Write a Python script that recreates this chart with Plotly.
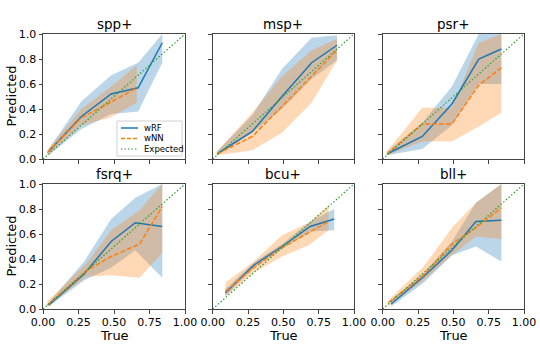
import plotly.graph_objects as go

# calibration panels: mean true fraction (x) vs predicted, with spread bands
classes = ["spp+", "msp+", "psr+", "fsrq+", "bcu+", "bll+"]

rf_x = [
    [0.04, 0.27, 0.48, 0.67, 0.84],
    [0.03, 0.28, 0.49, 0.70, 0.88],
    [0.03, 0.28, 0.49, 0.68, 0.84],
    [0.04, 0.29, 0.48, 0.65, 0.84],
    [0.09, 0.29, 0.49, 0.69, 0.86],
    [0.06, 0.29, 0.49, 0.66, 0.84],
]
rf_y = [
    [0.06, 0.34, 0.52, 0.57, 0.93],
    [0.04, 0.22, 0.50, 0.77, 0.91],
    [0.04, 0.18, 0.44, 0.80, 0.88],
    [0.03, 0.28, 0.54, 0.69, 0.66],
    [0.13, 0.35, 0.50, 0.66, 0.72],
    [0.04, 0.26, 0.47, 0.70, 0.71],
]
rf_hi = [
    [0.08, 0.46, 0.67, 0.77, 1.00],
    [0.06, 0.35, 0.72, 0.97, 0.99],
    [0.06, 0.29, 0.58, 1.00, 1.00],
    [0.05, 0.38, 0.72, 0.89, 1.00],
    [0.16, 0.37, 0.52, 0.70, 0.80],
    [0.07, 0.29, 0.54, 0.85, 1.00],
]
rf_lo = [
    [0.03, 0.24, 0.36, 0.38, 0.77],
    [0.03, 0.21, 0.40, 0.64, 0.79],
    [0.03, 0.08, 0.27, 0.60, 0.60],
    [0.02, 0.23, 0.33, 0.47, 0.25],
    [0.10, 0.33, 0.48, 0.62, 0.63],
    [0.02, 0.21, 0.43, 0.50, 0.38],
]

nn_x = [
    [0.03, 0.27, 0.47, 0.66],
    [0.03, 0.28, 0.49, 0.70, 0.88],
    [0.03, 0.28, 0.49, 0.68, 0.84],
    [0.03, 0.31, 0.48, 0.68, 0.84],
    [0.09, 0.29, 0.49, 0.68, 0.82],
    [0.04, 0.29, 0.49, 0.66, 0.84],
]
nn_y = [
    [0.05, 0.33, 0.45, 0.57],
    [0.04, 0.18, 0.42, 0.66, 0.87],
    [0.04, 0.28, 0.28, 0.59, 0.73],
    [0.03, 0.31, 0.42, 0.52, 0.82],
    [0.14, 0.33, 0.49, 0.61, 0.70],
    [0.05, 0.27, 0.52, 0.65, 0.81],
]
nn_hi = [
    [0.07, 0.40, 0.57, 0.75],
    [0.06, 0.37, 0.66, 0.87, 0.96],
    [0.06, 0.41, 0.41, 0.93, 1.00],
    [0.06, 0.37, 0.63, 0.79, 1.00],
    [0.21, 0.38, 0.59, 0.69, 0.83],
    [0.07, 0.34, 0.65, 0.85, 1.00],
]
nn_lo = [
    [0.03, 0.27, 0.33, 0.45],
    [0.03, 0.07, 0.21, 0.45, 0.79],
    [0.03, 0.14, 0.14, 0.26, 0.37],
    [0.02, 0.26, 0.27, 0.25, 0.45],
    [0.10, 0.29, 0.42, 0.51, 0.63],
    [0.02, 0.23, 0.43, 0.58, 0.56],
]

expected = [0, 1]
legend_names = ["wRF", "wNN", "Expected"]
x_ticks = [0, 0.25, 0.5, 0.75, 1.0]
x_ticktext = ["0.00", "0.25", "0.50", "0.75", "1.00"]
y_ticks = [0, 0.2, 0.4, 0.6, 0.8, 1.0]
y_ticktext = ["0.0", "0.2", "0.4", "0.6", "0.8", "1.0"]

BLUE = "#1f77b4"
ORANGE = "#ff7f0e"
GREEN = "#2ca02c"
FONT = "DejaVu Sans"

W, H = 540, 344
col_px = [(43, 185), (212.7, 354), (382.7, 524)]
row_px = [(34, 159), (184, 309)]

fig = go.Figure()
layout = {}
annotations = []
shapes = []

for i, name in enumerate(classes):
    r, c = divmod(i, 3)
    n = i + 1
    xa = "x" if n == 1 else f"x{n}"
    ya = "y" if n == 1 else f"y{n}"

    # bands
    fig.add_trace(go.Scatter(
        x=rf_x[i] + rf_x[i][::-1], y=rf_hi[i] + rf_lo[i][::-1],
        fill="toself", fillcolor="rgba(31,119,180,0.3)", line=dict(width=0),
        mode="lines", showlegend=False, hoverinfo="skip", xaxis=xa, yaxis=ya))
    fig.add_trace(go.Scatter(
        x=nn_x[i] + nn_x[i][::-1], y=nn_hi[i] + nn_lo[i][::-1],
        fill="toself", fillcolor="rgba(255,127,14,0.3)", line=dict(width=0),
        mode="lines", showlegend=False, hoverinfo="skip", xaxis=xa, yaxis=ya))
    # lines
    fig.add_trace(go.Scatter(
        x=rf_x[i], y=rf_y[i], mode="lines", name="wRF",
        line=dict(color=BLUE, width=1.5), showlegend=False, xaxis=xa, yaxis=ya))
    fig.add_trace(go.Scatter(
        x=nn_x[i], y=nn_y[i], mode="lines", name="wNN",
        line=dict(color=ORANGE, width=1.5, dash="5px,2px"), showlegend=False,
        xaxis=xa, yaxis=ya))
    fig.add_trace(go.Scatter(
        x=expected, y=expected, mode="lines", name="Expected",
        line=dict(color=GREEN, width=1.2, dash="1.5px,2px"), showlegend=False,
        xaxis=xa, yaxis=ya))

    x0, x1 = col_px[c]
    y0, y1 = row_px[r]
    axis_common = dict(
        showline=True, linecolor="#444", linewidth=1, mirror=True,
        showgrid=False, zeroline=False, ticks="outside", ticklen=3.5,
        tickcolor="#444", tickfont=dict(family=FONT, size=11, color="black"),
        automargin=False, fixedrange=True,
    )
    layout["xaxis" if n == 1 else f"xaxis{n}"] = dict(
        domain=[x0 / W, x1 / W], anchor=ya, range=[0, 1],
        tickvals=x_ticks, ticktext=x_ticktext, showticklabels=(r == 1),
        ticklabelstandoff=-1,
        **axis_common)
    layout["yaxis" if n == 1 else f"yaxis{n}"] = dict(
        domain=[1 - y1 / H, 1 - y0 / H], anchor=xa, range=[0, 1],
        tickvals=y_ticks, ticktext=y_ticktext, showticklabels=(c == 0),
        **axis_common)
    annotations.append(dict(
        text=name, x=(x0 + x1) / 2 / W, y=1 - y0 / H, xref="paper", yref="paper",
        xanchor="center", yanchor="bottom", yshift=0, showarrow=False,
        font=dict(family=FONT, size=13.5, color="black")))
    if c == 0:
        annotations.append(dict(
            text="Predicted", x=11 / W, y=1 - (y0 + y1) / 2 / H, xref="paper",
            yref="paper", xanchor="center", yanchor="middle", textangle=-90,
            showarrow=False, font=dict(family=FONT, size=13, color="black")))
    if r == 1:
        annotations.append(dict(
            text="True", x=(x0 + x1) / 2 / W, y=1 - 335 / H, xref="paper",
            yref="paper", xanchor="center", yanchor="middle",
            showarrow=False, font=dict(family=FONT, size=13, color="black")))

# legend drawn by hand inside the first panel (matplotlib-style compact box)
lx0, lx1, ly0, ly1 = 117, 182, 121, 156
shapes.append(dict(type="rect", xref="paper", yref="paper",
                   x0=lx0 / W, x1=lx1 / W, y0=1 - ly1 / H, y1=1 - ly0 / H,
                   line=dict(color="#d0d0d0", width=1),
                   fillcolor="rgba(255,255,255,0.8)", layer="above"))
legend_styles = [
    dict(color=BLUE, width=1.5, dash="solid"),
    dict(color=ORANGE, width=1.5, dash="4px,2px"),
    dict(color=GREEN, width=1.2, dash="1.5px,2px"),
]
for k, (lbl, st) in enumerate(zip(legend_names, legend_styles)):
    yy = 1 - (ly0 + 7 + k * 10.5) / H
    shapes.append(dict(type="line", xref="paper", yref="paper",
                       x0=(lx0 + 4) / W, x1=(lx0 + 21) / W, y0=yy, y1=yy,
                       line=st, layer="above"))
    annotations.append(dict(
        text=lbl, x=(lx0 + 25) / W, y=yy, xref="paper", yref="paper",
        xanchor="left", yanchor="middle", showarrow=False,
        font=dict(family=FONT, size=8.5, color="black")))

fig.update_layout(
    **layout,
    annotations=annotations,
    shapes=shapes,
    width=W, height=H,
    margin=dict(l=0, r=0, t=0, b=0),
    paper_bgcolor="white", plot_bgcolor="white",
    font=dict(family=FONT, color="black"),
    showlegend=False,
)

# drop the default page margin so the figure sits at the window's corner
fig.write_html("out.html", config={"displayModeBar": False},
               post_script="document.body.style.margin='0';")
